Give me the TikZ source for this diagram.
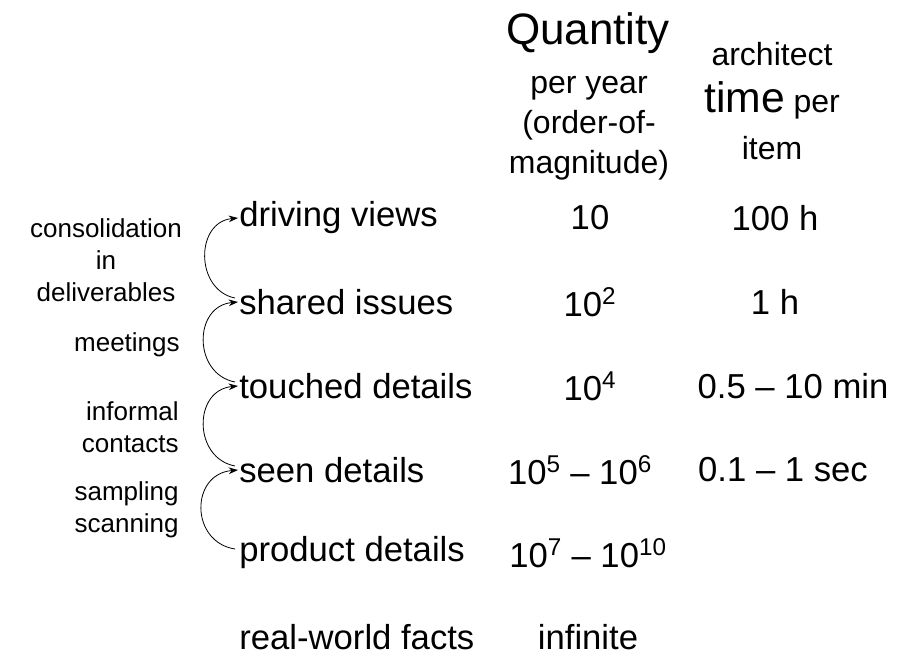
\documentclass[tikz,border=0pt]{standalone}
\usepackage{fontspec}
\setmainfont{Liberation Sans}
\usetikzlibrary{arrows.meta}
\begin{document}
\begin{tikzpicture}[x=0.75pt,y=-0.75pt,
            every node/.style = {inner sep = 0pt,
                                outer sep = 1pt},
            item/.style   = {anchor = west,
                            font = \fontsize{26}{30}\selectfont},
            num/.style    = {font = \fontsize{26}{30}\selectfont},
            head/.style   = {font = \fontsize{24}{30}\selectfont},
            side/.style   = {align = center,
                            font = \fontsize{19.5}{24}\selectfont},
            flow/.style   = {-{Stealth[length=7pt,width=5pt]},
                            semithick}
            ]
            \useasboundingbox (0,0) rectangle (920,660);
            % headers
            \node[font=\fontsize{33}{38}\selectfont] (qty) at (588,33) {Quantity};
            \node[head, align=center] (qsub) at (589,128)
                {per year\\(order-of-\\magnitude)};
            \node[head, align=center, font=\fontsize{24}{35}\selectfont] (arch) at (772,101)
                {architect\\{\fontsize{32}{35}\selectfont time} per\\item};
            % rows
            \node[item] (dv) at (238,218) {driving views};
            \node[item] (si) at (238,302) {shared issues};
            \node[item] (td) at (238,386) {touched details};
            \node[item] (sd) at (238,470) {seen details};
            \node[item] (pd) at (238,553) {product details};
            \node[item] (rw) at (238,637) {real-world facts};
            \node[num] (q1) at (590,218) {10};
            \node[num] (q2) at (590,302) {10\textsuperscript{2}};
            \node[num] (q3) at (590,386) {10\textsuperscript{4}};
            \node[num] (q4) at (580,470) {10\textsuperscript{5} -- 10\textsuperscript{6}};
            \node[num] (q5) at (588,553) {10\textsuperscript{7} -- 10\textsuperscript{10}};
            \node[num] (q6) at (588,637) {infinite};
            \node[num] (t1) at (775,218) {100 h};
            \node[num] (t2) at (775,302) {1 h};
            \node[num] (t3) at (793,386) {0.5 -- 10 min};
            \node[num] (t4) at (783,470) {0.1 -- 1 sec};
            % side labels
            \node[side] (l1) at (106,260) {consolidation\\in\\deliverables};
            \node[side, anchor=east] (l2) at (181,345) {meetings};
            \node[side, anchor=east, align=right] (l3) at (180,427) {informal\\contacts};
            \node[side, anchor=east, align=right] (l4) at (180,510) {sampling\\scanning};
            % arcs
            \draw[flow] (si.west) ++(-3,-4) coordinate (a1)
                (a1) .. controls (195,290) and (195,222) .. (dv.west);
            \draw[flow] (td.west) ++(-3,-4) coordinate (a2)
                (a2) .. controls (193,374) and (193,306) .. (si.west);
            \draw[flow] (sd.west) ++(-3,-4) coordinate (a3)
                (a3) .. controls (193,458) and (193,390) .. (td.west);
            \draw[flow] (pd.west) ++(-3,-4) coordinate (a4)
                (a4) .. controls (190,542) and (190,474) .. (sd.west);
\end{tikzpicture}
\end{document}
